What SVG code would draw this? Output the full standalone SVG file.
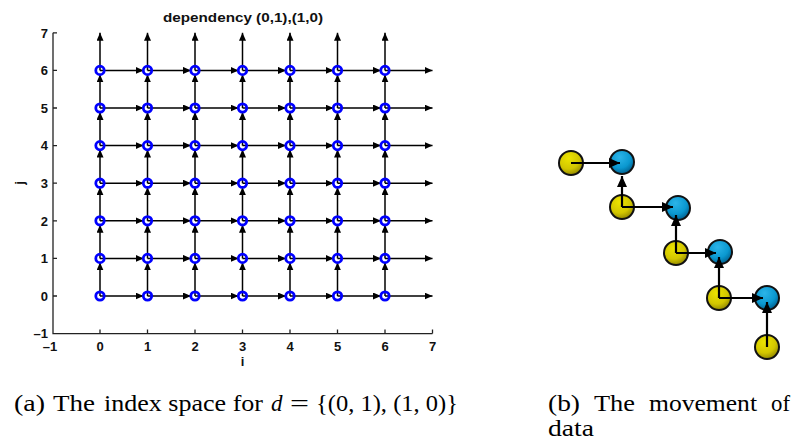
<svg xmlns="http://www.w3.org/2000/svg" width="795" height="445" viewBox="0 0 795 445">
<style>
.ax{stroke:#222;stroke-width:1.3;fill:none}
.tk{font-family:"Liberation Sans",Arial,sans-serif;font-weight:bold;font-size:13px;fill:#111}
.a{stroke:#000;stroke-width:1.5;fill:none;marker-end:url(#ah)}
.p{fill:none;stroke:#0000ff;stroke-width:2.8}
.b{stroke:#000;stroke-width:2.2;fill:none;marker-end:url(#bh)}
.yb{fill:url(#gy);stroke:#111;stroke-width:2}
.bb{fill:url(#gb);stroke:#111;stroke-width:2}
.cap{font-family:"Liberation Serif","DejaVu Serif",serif;font-size:23px;fill:#000}
</style>
<defs>
<marker id="ah" markerUnits="userSpaceOnUse" markerWidth="9" markerHeight="8" refX="8" refY="3.5" orient="auto"><path d="M0,0 L8,3.5 L0,7 z" fill="#000"/></marker>
<marker id="bh" markerUnits="userSpaceOnUse" markerWidth="12" markerHeight="11" refX="11" refY="5" orient="auto"><path d="M0,0 L11,5 L0,10 z" fill="#000"/></marker>
<radialGradient id="gy" cx="0.4" cy="0.3" r="0.75"><stop offset="0" stop-color="#ece400"/><stop offset="0.6" stop-color="#d2c600"/><stop offset="1" stop-color="#8a8000"/></radialGradient>
<radialGradient id="gb" cx="0.4" cy="0.3" r="0.75"><stop offset="0" stop-color="#2cb4e8"/><stop offset="0.6" stop-color="#0a98d0"/><stop offset="1" stop-color="#005a88"/></radialGradient>
</defs>
<rect width="795" height="445" fill="#fff"/>

<g id="axes">
<text x="243" y="22" text-anchor="middle" class="tk" textLength="160" lengthAdjust="spacingAndGlyphs">dependency (0,1),(1,0)</text>
<path class="ax" d="M53 32.8V333.6H432.5"/>
<path class="ax" d="M53 32.8h4M53 70.4h4M53 108h4M53 145.6h4M53 183.2h4M53 220.8h4M53 258.4h4M53 296h4M100 333.6v-4M147.5 333.6v-4M195 333.6v-4M242.5 333.6v-4M290 333.6v-4M337.5 333.6v-4M385 333.6v-4M432.5 333.6v-4"/>
<g class="tk" text-anchor="end">
<text x="48" y="37.5">7</text><text x="48" y="75">6</text><text x="48" y="112.5">5</text><text x="48" y="150">4</text><text x="48" y="187.5">3</text><text x="48" y="225.5">2</text><text x="48" y="263">1</text><text x="48" y="300.5">0</text><text x="48" y="338">–1</text>
</g>
<g class="tk" text-anchor="middle">
<text x="50" y="351">–1</text><text x="100" y="351">0</text><text x="147.5" y="351">1</text><text x="195" y="351">2</text><text x="242.5" y="351">3</text><text x="290" y="351">4</text><text x="337.5" y="351">5</text><text x="385" y="351">6</text><text x="432.5" y="351">7</text>
<text x="242.5" y="366">i</text>
<text x="0" y="0" transform="translate(24 183) rotate(-90)">j</text>
</g>
</g>

<g id="grid-connectors">
<path class="a" d="M100 296H143.5"/><path class="a" d="M147.5 296H191"/><path class="a" d="M195 296H238.5"/><path class="a" d="M242.5 296H286"/><path class="a" d="M290 296H333.5"/><path class="a" d="M337.5 296H381"/><path class="a" d="M385 296H432.5"/>
<path class="a" d="M100 258.4H143.5"/><path class="a" d="M147.5 258.4H191"/><path class="a" d="M195 258.4H238.5"/><path class="a" d="M242.5 258.4H286"/><path class="a" d="M290 258.4H333.5"/><path class="a" d="M337.5 258.4H381"/><path class="a" d="M385 258.4H432.5"/>
<path class="a" d="M100 220.8H143.5"/><path class="a" d="M147.5 220.8H191"/><path class="a" d="M195 220.8H238.5"/><path class="a" d="M242.5 220.8H286"/><path class="a" d="M290 220.8H333.5"/><path class="a" d="M337.5 220.8H381"/><path class="a" d="M385 220.8H432.5"/>
<path class="a" d="M100 183.2H143.5"/><path class="a" d="M147.5 183.2H191"/><path class="a" d="M195 183.2H238.5"/><path class="a" d="M242.5 183.2H286"/><path class="a" d="M290 183.2H333.5"/><path class="a" d="M337.5 183.2H381"/><path class="a" d="M385 183.2H432.5"/>
<path class="a" d="M100 145.6H143.5"/><path class="a" d="M147.5 145.6H191"/><path class="a" d="M195 145.6H238.5"/><path class="a" d="M242.5 145.6H286"/><path class="a" d="M290 145.6H333.5"/><path class="a" d="M337.5 145.6H381"/><path class="a" d="M385 145.6H432.5"/>
<path class="a" d="M100 108H143.5"/><path class="a" d="M147.5 108H191"/><path class="a" d="M195 108H238.5"/><path class="a" d="M242.5 108H286"/><path class="a" d="M290 108H333.5"/><path class="a" d="M337.5 108H381"/><path class="a" d="M385 108H432.5"/>
<path class="a" d="M100 70.4H143.5"/><path class="a" d="M147.5 70.4H191"/><path class="a" d="M195 70.4H238.5"/><path class="a" d="M242.5 70.4H286"/><path class="a" d="M290 70.4H333.5"/><path class="a" d="M337.5 70.4H381"/><path class="a" d="M385 70.4H432.5"/>
<path class="a" d="M100 296V262.4"/><path class="a" d="M100 258.4V224.8"/><path class="a" d="M100 220.8V187.2"/><path class="a" d="M100 183.2V149.6"/><path class="a" d="M100 145.6V112"/><path class="a" d="M100 108V74.4"/><path class="a" d="M100 70.4V32.8"/>
<path class="a" d="M147.5 296V262.4"/><path class="a" d="M147.5 258.4V224.8"/><path class="a" d="M147.5 220.8V187.2"/><path class="a" d="M147.5 183.2V149.6"/><path class="a" d="M147.5 145.6V112"/><path class="a" d="M147.5 108V74.4"/><path class="a" d="M147.5 70.4V32.8"/>
<path class="a" d="M195 296V262.4"/><path class="a" d="M195 258.4V224.8"/><path class="a" d="M195 220.8V187.2"/><path class="a" d="M195 183.2V149.6"/><path class="a" d="M195 145.6V112"/><path class="a" d="M195 108V74.4"/><path class="a" d="M195 70.4V32.8"/>
<path class="a" d="M242.5 296V262.4"/><path class="a" d="M242.5 258.4V224.8"/><path class="a" d="M242.5 220.8V187.2"/><path class="a" d="M242.5 183.2V149.6"/><path class="a" d="M242.5 145.6V112"/><path class="a" d="M242.5 108V74.4"/><path class="a" d="M242.5 70.4V32.8"/>
<path class="a" d="M290 296V262.4"/><path class="a" d="M290 258.4V224.8"/><path class="a" d="M290 220.8V187.2"/><path class="a" d="M290 183.2V149.6"/><path class="a" d="M290 145.6V112"/><path class="a" d="M290 108V74.4"/><path class="a" d="M290 70.4V32.8"/>
<path class="a" d="M337.5 296V262.4"/><path class="a" d="M337.5 258.4V224.8"/><path class="a" d="M337.5 220.8V187.2"/><path class="a" d="M337.5 183.2V149.6"/><path class="a" d="M337.5 145.6V112"/><path class="a" d="M337.5 108V74.4"/><path class="a" d="M337.5 70.4V32.8"/>
<path class="a" d="M385 296V262.4"/><path class="a" d="M385 258.4V224.8"/><path class="a" d="M385 220.8V187.2"/><path class="a" d="M385 183.2V149.6"/><path class="a" d="M385 145.6V112"/><path class="a" d="M385 108V74.4"/><path class="a" d="M385 70.4V32.8"/>
</g>

<g id="grid-nodes">
<g id="n00"><circle class="p" cx="100" cy="296" r="4.2"/></g><g id="n10"><circle class="p" cx="147.5" cy="296" r="4.2"/></g><g id="n20"><circle class="p" cx="195" cy="296" r="4.2"/></g><g id="n30"><circle class="p" cx="242.5" cy="296" r="4.2"/></g><g id="n40"><circle class="p" cx="290" cy="296" r="4.2"/></g><g id="n50"><circle class="p" cx="337.5" cy="296" r="4.2"/></g><g id="n60"><circle class="p" cx="385" cy="296" r="4.2"/></g>
<g id="n01"><circle class="p" cx="100" cy="258.4" r="4.2"/></g><g id="n11"><circle class="p" cx="147.5" cy="258.4" r="4.2"/></g><g id="n21"><circle class="p" cx="195" cy="258.4" r="4.2"/></g><g id="n31"><circle class="p" cx="242.5" cy="258.4" r="4.2"/></g><g id="n41"><circle class="p" cx="290" cy="258.4" r="4.2"/></g><g id="n51"><circle class="p" cx="337.5" cy="258.4" r="4.2"/></g><g id="n61"><circle class="p" cx="385" cy="258.4" r="4.2"/></g>
<g id="n02"><circle class="p" cx="100" cy="220.8" r="4.2"/></g><g id="n12"><circle class="p" cx="147.5" cy="220.8" r="4.2"/></g><g id="n22"><circle class="p" cx="195" cy="220.8" r="4.2"/></g><g id="n32"><circle class="p" cx="242.5" cy="220.8" r="4.2"/></g><g id="n42"><circle class="p" cx="290" cy="220.8" r="4.2"/></g><g id="n52"><circle class="p" cx="337.5" cy="220.8" r="4.2"/></g><g id="n62"><circle class="p" cx="385" cy="220.8" r="4.2"/></g>
<g id="n03"><circle class="p" cx="100" cy="183.2" r="4.2"/></g><g id="n13"><circle class="p" cx="147.5" cy="183.2" r="4.2"/></g><g id="n23"><circle class="p" cx="195" cy="183.2" r="4.2"/></g><g id="n33"><circle class="p" cx="242.5" cy="183.2" r="4.2"/></g><g id="n43"><circle class="p" cx="290" cy="183.2" r="4.2"/></g><g id="n53"><circle class="p" cx="337.5" cy="183.2" r="4.2"/></g><g id="n63"><circle class="p" cx="385" cy="183.2" r="4.2"/></g>
<g id="n04"><circle class="p" cx="100" cy="145.6" r="4.2"/></g><g id="n14"><circle class="p" cx="147.5" cy="145.6" r="4.2"/></g><g id="n24"><circle class="p" cx="195" cy="145.6" r="4.2"/></g><g id="n34"><circle class="p" cx="242.5" cy="145.6" r="4.2"/></g><g id="n44"><circle class="p" cx="290" cy="145.6" r="4.2"/></g><g id="n54"><circle class="p" cx="337.5" cy="145.6" r="4.2"/></g><g id="n64"><circle class="p" cx="385" cy="145.6" r="4.2"/></g>
<g id="n05"><circle class="p" cx="100" cy="108" r="4.2"/></g><g id="n15"><circle class="p" cx="147.5" cy="108" r="4.2"/></g><g id="n25"><circle class="p" cx="195" cy="108" r="4.2"/></g><g id="n35"><circle class="p" cx="242.5" cy="108" r="4.2"/></g><g id="n45"><circle class="p" cx="290" cy="108" r="4.2"/></g><g id="n55"><circle class="p" cx="337.5" cy="108" r="4.2"/></g><g id="n65"><circle class="p" cx="385" cy="108" r="4.2"/></g>
<g id="n06"><circle class="p" cx="100" cy="70.4" r="4.2"/></g><g id="n16"><circle class="p" cx="147.5" cy="70.4" r="4.2"/></g><g id="n26"><circle class="p" cx="195" cy="70.4" r="4.2"/></g><g id="n36"><circle class="p" cx="242.5" cy="70.4" r="4.2"/></g><g id="n46"><circle class="p" cx="290" cy="70.4" r="4.2"/></g><g id="n56"><circle class="p" cx="337.5" cy="70.4" r="4.2"/></g><g id="n66"><circle class="p" cx="385" cy="70.4" r="4.2"/></g>
</g>

<g id="ball-nodes">
<g id="y1"><circle class="yb" cx="571" cy="163" r="12"/></g>
<g id="b1"><circle class="bb" cx="622" cy="162" r="12"/></g>
<g id="y2"><circle class="yb" cx="622" cy="207" r="12"/></g>
<g id="b2"><circle class="bb" cx="678" cy="208" r="12"/></g>
<g id="y3"><circle class="yb" cx="676" cy="253" r="12"/></g>
<g id="b3"><circle class="bb" cx="720" cy="252" r="12"/></g>
<g id="y4"><circle class="yb" cx="719" cy="298" r="12"/></g>
<g id="b4"><circle class="bb" cx="767" cy="298" r="12"/></g>
<g id="y5"><circle class="yb" cx="767" cy="347" r="12"/></g>
</g>

<g id="ball-connectors">
<path class="b" d="M571 163H620"/>
<path class="b" d="M622 207V176"/>
<path class="b" d="M622 207H673"/>
<path class="b" d="M676 253V215"/>
<path class="b" d="M676 253H716"/>
<path class="b" d="M719 298V257"/>
<path class="b" d="M719 298H763"/>
<path class="b" d="M767 347V302"/>
</g>

<g id="captions" class="cap">
<text x="14" y="411" textLength="31" lengthAdjust="spacingAndGlyphs">(a)</text>
<text x="53" y="411" textLength="42" lengthAdjust="spacingAndGlyphs">The</text>
<text x="104" y="411" textLength="159" lengthAdjust="spacingAndGlyphs">index space for</text>
<text x="271" y="411" font-style="italic">d</text>
<text x="290" y="411" textLength="19" lengthAdjust="spacingAndGlyphs">=</text>
<text x="316" y="411" textLength="142" lengthAdjust="spacingAndGlyphs">{(0, 1), (1, 0)}</text>
<text x="548" y="411" textLength="32" lengthAdjust="spacingAndGlyphs">(b)</text>
<text x="594" y="411" textLength="41" lengthAdjust="spacingAndGlyphs">The</text>
<text x="649" y="411" textLength="108" lengthAdjust="spacingAndGlyphs">movement</text>
<text x="771" y="411" textLength="19" lengthAdjust="spacingAndGlyphs">of</text>
<text x="548" y="436" textLength="46" lengthAdjust="spacingAndGlyphs">data</text>
</g>
</svg>
